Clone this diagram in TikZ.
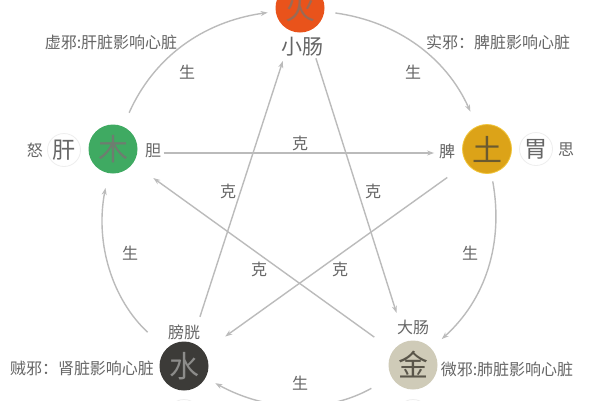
\documentclass[tikz,border=0pt]{standalone}
\usepackage{fontspec}
\setmainfont{Noto Sans CJK SC}
\usetikzlibrary{arrows.meta}
\definecolor{huoC}{HTML}{E9531B}
\definecolor{huoT}{HTML}{9A6A55}
\definecolor{muC}{HTML}{3FAA62}
\definecolor{muT}{HTML}{6E7D70}
\definecolor{tuC}{HTML}{DCA318}
\definecolor{tuB}{HTML}{F2C63A}
\definecolor{tuT}{HTML}{6B5A30}
\definecolor{shuiC}{HTML}{3C3B38}
\definecolor{shuiT}{HTML}{8C8C8A}
\definecolor{jinC}{HTML}{CFCBB8}
\definecolor{jinT}{HTML}{5A564A}
\definecolor{txt}{HTML}{666666}
\definecolor{lineC}{HTML}{BBBBBB}
\definecolor{ringC}{HTML}{EEEEEE}
\begin{document}
\begin{tikzpicture}[x=1pt,y=-1pt,
  elem/.style={circle, minimum size=49pt, inner sep=0pt, font=\fontsize{30}{30}\selectfont},
  organ/.style={circle, draw=ringC, line width=0.8pt, fill=white, minimum size=33pt, inner sep=0pt, text=txt, font=\fontsize{23}{23}\selectfont},
  lbl/.style={text=txt, inner sep=0pt, font=\fontsize{16}{16}\selectfont},
  big/.style={text=txt, inner sep=0pt, font=\fontsize{21}{21}\selectfont},
  conn/.style={draw=lineC, line width=1.4pt, -{Stealth[length=7pt,width=5pt]}},
]
\clip (0,0) rectangle (600,400);
\fill[white] (0,0) rectangle (600,400);
\useasboundingbox (0,0) rectangle (600,400);

% elements
\node[elem, fill=huoC, text=huoT] (huo) at (300,8) {火};
\node[elem, fill=muC, text=muT] (mu) at (113,149) {木};
\node[elem, fill=tuC, draw=tuB, line width=0.8pt, text=tuT] (tu) at (487,149) {土};
\node[elem, fill=shuiC, text=shuiT] (shui) at (184,366) {水};
\node[elem, fill=jinC, text=jinT] (jin) at (413,365) {金};

% organs
\node[organ] (gan) at (64,150) {肝};
\node[organ] (wei) at (536,149) {胃};
\node[organ] (shen) at (184,416) {};
\node[organ] (fei) at (413,416) {};

% labels
\node[big] (xiaochang) at (302,47) {小肠};
\node[lbl] (dan) at (153,151) {胆};
\node[lbl] (pi) at (447,151) {脾};
\node[lbl] (nu) at (35,150) {怒};
\node[lbl] (si) at (566,150) {思};
\node[lbl] (pangguang) at (184,332) {膀胱};
\node[lbl] (dachang) at (413,327) {大肠};
\node[lbl] (xuxie) at (111,42) {虚邪:肝脏影响心脏};
\node[lbl] (shixie) at (498,42) {实邪：脾脏影响心脏};
\node[lbl] (zeixie) at (82,369) {贼邪：肾脏影响心脏};
\node[lbl] (weixie) at (507,369) {微邪:肺脏影响心脏};

% sheng cycle
\draw[conn, shorten <=15pt, shorten >=8pt] (mu) to[bend left=29] (huo);
\draw[conn, shorten <=11pt, shorten >=16pt] (huo) to[bend left=29] (tu);
\draw[conn, shorten <=8pt, shorten >=14pt] (tu) to[bend left=29] (jin);
\draw[conn, shorten <=23pt, shorten >=11pt] (jin) to[bend left=29] (shui);
\draw[conn, shorten <=25pt, shorten >=15pt] (shui) to[bend left=29] (mu);

% ke star
\draw[conn, shorten <=26pt, shorten >=28pt] ([yshift=-4pt]mu.east) -- ([yshift=-4pt]tu.west);
\draw[conn, shorten <=24pt, shorten >=26pt] (tu) -- (shui);
\draw[conn, shorten <=27pt, shorten >=31pt] (shui) -- (huo);
\draw[conn, shorten <=28pt, shorten >=30pt] (huo) -- (jin);
\draw[conn, shorten <=23pt, shorten >=25pt] (jin) -- (mu);

% sheng labels
\node[lbl] (s1) at (187,72) {生};
\node[lbl] (s2) at (413,72) {生};
\node[lbl] (s3) at (130,253) {生};
\node[lbl] (s4) at (470,253) {生};
\node[lbl] (s5) at (300,383) {生};

% ke labels
\node[lbl] (k1) at (300,143) {克};
\node[lbl] (k2) at (228,191) {克};
\node[lbl] (k3) at (373,191) {克};
\node[lbl] (k4) at (259,269) {克};
\node[lbl] (k5) at (340,269) {克};
\end{tikzpicture}
\end{document}
